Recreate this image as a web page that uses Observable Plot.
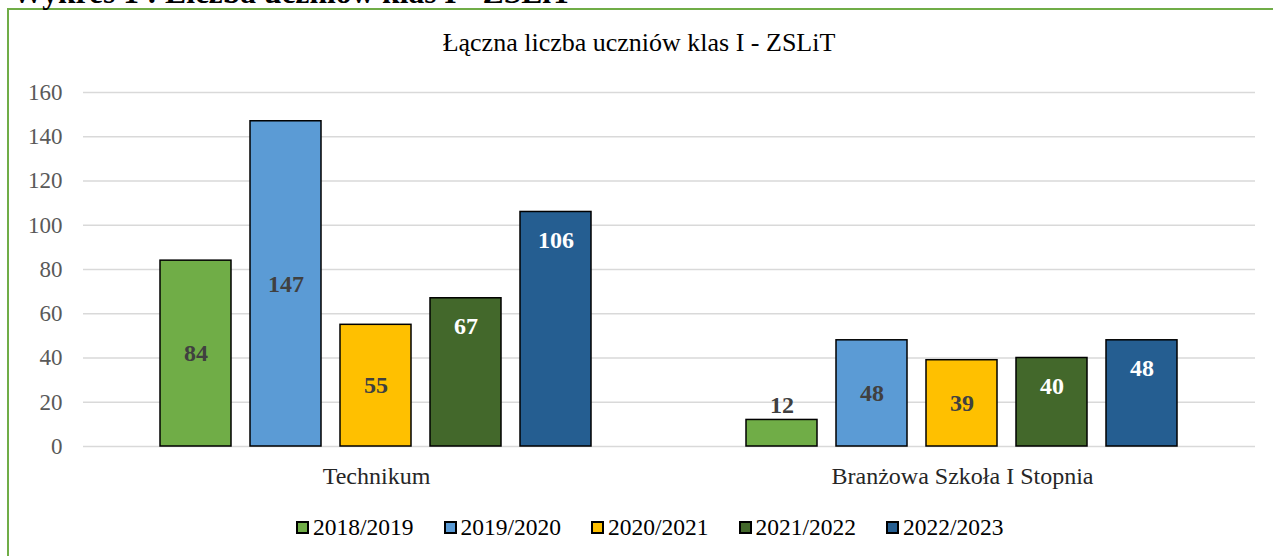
<!DOCTYPE html>
<html><head><meta charset="utf-8">
<script src="https://cdn.jsdelivr.net/npm/d3@7"></script>
<script src="https://cdn.jsdelivr.net/npm/@observablehq/plot@0.6"></script>
<style>
html,body{margin:0;padding:0;background:#fff;}
#wrap{position:relative;width:1273px;height:556px;overflow:hidden;font-family:"Liberation Serif","Times New Roman",serif;}
#heading{position:absolute;left:12px;top:-23px;font-size:31.5px;line-height:1;font-weight:bold;white-space:nowrap;color:#000;}
#frame{position:absolute;left:7px;top:8px;width:2000px;height:1000px;border-left:2px solid #70ad47;border-top:2px solid #70ad47;}
#title{position:absolute;left:0;width:1278px;top:30px;text-align:center;font-size:26px;line-height:1;color:#000;white-space:nowrap;}
#chart{position:absolute;left:0;top:0;}
#legend{position:absolute;left:296px;top:513px;display:flex;font-size:23.5px;line-height:28px;color:#000;white-space:nowrap;}
.item{display:flex;align-items:center;width:147.5px;}
.sw{box-sizing:border-box;width:13px;height:13px;border:2px solid #000;margin-right:4px;}
</style></head>
<body>
<div id="wrap">
  <div id="frame"></div>
  <div id="heading">Wykres 1 : Liczba uczniów klas I - ZSLiT</div>
  <div id="title">Łączna liczba uczniów klas I - ZSLiT</div>
  <div id="chart"></div>
  <div id="legend"></div>
</div>
<script>
const schools = ["Technikum", "Branżowa Szkoła I Stopnia"];
const years = ["2018/2019", "2019/2020", "2020/2021", "2021/2022", "2022/2023"];
const colors = ["#70ad47", "#5b9bd5", "#ffc000", "#43682b", "#255e91"];
const technikum = [84, 147, 55, 67, 106];
const branzowa = [12, 48, 39, 40, 48];
const yTicks = [0, 20, 40, 60, 80, 100, 120, 140, 160];

const seriesBySchool = [technikum, branzowa];
const data = [];
schools.forEach((s, si) => seriesBySchool[si].forEach((v, i) => data.push({school: s, year: years[i], idx: i, value: v})));

// label placement rule: dark series -> white, inside top; light series -> centered, or above if the bar is short
const dark = d => d.idx >= 3;
const topIn = data.filter(d => dark(d));
const centered = data.filter(d => !dark(d) && d.value >= 20);
const above = data.filter(d => !dark(d) && d.value < 20);

const labelFont = {fontSize: 24, fontWeight: "bold", fontFamily: "Liberation Serif"};

const chart = Plot.plot({
  width: 1273,
  height: 500,
  marginLeft: 83,
  marginRight: 18,
  marginTop: 92,
  marginBottom: 54,
  style: {fontFamily: "Liberation Serif", fontSize: "23px", color: "#595959", background: "transparent"},
  fx: {domain: schools, padding: 0, label: null},
  x: {domain: years, paddingInner: 0.21, paddingOuter: 0.86, axis: null},
  y: {domain: [0, 160], axis: null},
  color: {domain: years, range: colors},
  marks: [
    Plot.ruleY(yTicks, {stroke: "#d9d9d9", strokeWidth: 1.5}),
    Plot.barY(data, {fx: "school", x: "year", y: "value", fill: "year", stroke: "#000", strokeWidth: 1.5}),
    Plot.text(centered, {fx: "school", x: "year", y: d => d.value / 2, text: d => String(d.value), fill: "#404040", ...labelFont}),
    Plot.text(topIn, {fx: "school", x: "year", y: "value", dy: 28, text: d => String(d.value), fill: "#ffffff", ...labelFont}),
    Plot.text(above, {fx: "school", x: "year", y: "value", dy: -15, text: d => String(d.value), fill: "#404040", ...labelFont}),
    Plot.axisY({ticks: yTicks, tickSize: 0, tickPadding: 21, fontSize: 23, fill: "#595959", label: null}),
    Plot.axisFx({anchor: "bottom", tickSize: 0, tickPadding: 20, fontSize: 24, fill: "#262626", label: null})
  ]
});
document.getElementById("chart").appendChild(chart);

const legend = document.getElementById("legend");
years.forEach((y, i) => {
  const item = document.createElement("div");
  item.className = "item";
  const sw = document.createElement("span");
  sw.className = "sw";
  sw.style.background = colors[i];
  const t = document.createElement("span");
  t.textContent = y;
  item.appendChild(sw);
  item.appendChild(t);
  legend.appendChild(item);
});
</script>
</body></html>
